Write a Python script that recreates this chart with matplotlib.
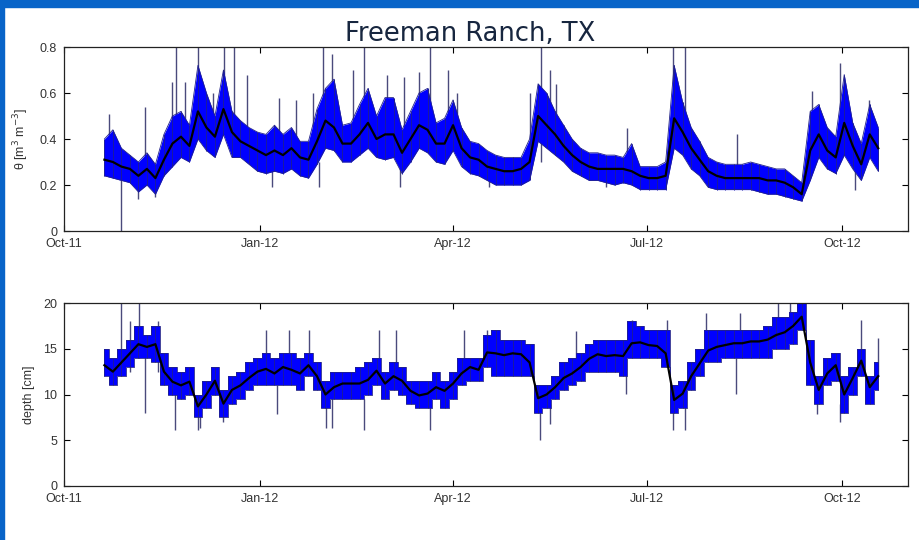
import numpy as np
import matplotlib
matplotlib.use('Agg')
import matplotlib.pyplot as plt
import matplotlib.dates as mdates
from matplotlib.patches import Rectangle

# sample days, counted from 1 Oct 2011 (one sample every 4 days)
start = np.datetime64('2011-10-01')
days = np.arange(19, 384, 4)

# soil moisture theta [m3 m-3]: mean, lower and upper band
theta_mean = [0.31, 0.30, 0.28, 0.27, 0.24, 0.27, 0.23, 0.31, 0.38, 0.41,
              0.37, 0.52, 0.45, 0.41, 0.53, 0.43, 0.39, 0.37, 0.35, 0.33,
              0.35, 0.33, 0.36, 0.32, 0.31, 0.39, 0.48, 0.45, 0.38, 0.38,
              0.42, 0.47, 0.40, 0.42, 0.42, 0.34, 0.40, 0.46, 0.44, 0.38,
              0.38, 0.46, 0.36, 0.32, 0.31, 0.28, 0.27, 0.26, 0.26, 0.27,
              0.30, 0.50, 0.46, 0.42, 0.37, 0.33, 0.30, 0.28, 0.27, 0.27,
              0.27, 0.27, 0.26, 0.24, 0.23, 0.23, 0.24, 0.49, 0.43, 0.36,
              0.31, 0.26, 0.24, 0.23, 0.23, 0.23, 0.23, 0.23, 0.22, 0.22,
              0.21, 0.19, 0.16, 0.35, 0.42, 0.35, 0.32, 0.47, 0.37, 0.29,
              0.42, 0.36]
theta_lo = [0.24, 0.23, 0.22, 0.21, 0.17, 0.20, 0.16, 0.24, 0.28, 0.32,
            0.30, 0.40, 0.35, 0.32, 0.42, 0.32, 0.32, 0.29, 0.26, 0.25,
            0.26, 0.25, 0.27, 0.24, 0.23, 0.29, 0.36, 0.35, 0.30, 0.30,
            0.33, 0.36, 0.32, 0.31, 0.32, 0.25, 0.30, 0.36, 0.34, 0.30,
            0.29, 0.35, 0.28, 0.25, 0.24, 0.22, 0.20, 0.20, 0.20, 0.20,
            0.22, 0.39, 0.36, 0.33, 0.30, 0.26, 0.24, 0.22, 0.22, 0.21,
            0.20, 0.21, 0.20, 0.18, 0.18, 0.18, 0.18, 0.36, 0.33, 0.27,
            0.24, 0.19, 0.18, 0.18, 0.18, 0.18, 0.18, 0.17, 0.16, 0.16,
            0.15, 0.14, 0.13, 0.22, 0.32, 0.27, 0.25, 0.33, 0.27, 0.22,
            0.32, 0.26]
theta_hi = [0.40, 0.44, 0.36, 0.33, 0.30, 0.34, 0.29, 0.42, 0.50, 0.52,
            0.46, 0.72, 0.60, 0.50, 0.70, 0.52, 0.48, 0.45, 0.43, 0.42,
            0.46, 0.42, 0.45, 0.39, 0.39, 0.53, 0.62, 0.66, 0.46, 0.47,
            0.55, 0.62, 0.50, 0.58, 0.58, 0.44, 0.52, 0.60, 0.62, 0.47,
            0.49, 0.57, 0.45, 0.39, 0.38, 0.35, 0.33, 0.32, 0.32, 0.32,
            0.40, 0.64, 0.60, 0.52, 0.46, 0.40, 0.36, 0.34, 0.34, 0.33,
            0.33, 0.32, 0.38, 0.28, 0.28, 0.28, 0.30, 0.72, 0.56, 0.45,
            0.39, 0.32, 0.30, 0.29, 0.29, 0.29, 0.30, 0.29, 0.28, 0.27,
            0.27, 0.24, 0.21, 0.52, 0.55, 0.45, 0.41, 0.68, 0.47, 0.38,
            0.55, 0.45]
# single readings sticking out of the band
theta_spike_day = [21, 26.7, 38, 51, 52.7, 57, 62.9, 70, 75.3, 79.8, 86, 101,
                   109, 117, 122, 126, 136, 141, 152, 160, 167, 172, 180.5,
                   185, 219, 224.5, 228.5, 231.5, 265, 286.5, 292, 316.5,
                   351.8, 365, 378.6, 35, 43, 98, 120, 158, 200, 255, 372]
theta_spike_lo = [0.30, 0.00, 0.27, 0.35, 0.35, 0.38, 0.45, 0.40, 0.50, 0.40,
                  0.37, 0.32, 0.35, 0.33, 0.45, 0.45, 0.38, 0.45, 0.40, 0.35,
                  0.45, 0.42, 0.38, 0.40, 0.28, 0.30, 0.45, 0.40, 0.28, 0.45,
                  0.42, 0.24, 0.35, 0.45, 0.42, 0.14, 0.15, 0.19, 0.19, 0.19,
                  0.19, 0.19, 0.18]
theta_spike_hi = [0.51, 0.30, 0.54, 0.65, 0.80, 0.65, 0.80, 0.60, 0.80, 0.80,
                  0.68, 0.58, 0.57, 0.60, 0.80, 0.77, 0.70, 0.80, 0.68, 0.67,
                  0.69, 0.80, 0.70, 0.60, 0.60, 0.80, 0.70, 0.64, 0.45, 0.80,
                  0.80, 0.42, 0.61, 0.73, 0.57, 0.24, 0.24, 0.30, 0.30, 0.28,
                  0.25, 0.25, 0.28]

# sensor depth [cm]
depth_mean = [13.2, 12.5, 13.5, 14.5, 15.5, 15.2, 15.5, 12.5, 11.4, 11.0,
              11.4, 8.7, 10.0, 11.5, 9.0, 10.5, 11.0, 11.8, 12.5, 12.8,
              12.3, 13.0, 12.7, 12.3, 13.2, 12.0, 10.0, 10.8, 11.2, 11.2,
              11.2, 11.6, 12.6, 11.2, 12.0, 11.5, 10.4, 9.9, 10.1, 10.8,
              10.4, 11.2, 12.3, 13.0, 12.7, 14.6, 14.5, 14.3, 14.5, 14.4,
              13.5, 9.6, 10.0, 10.8, 11.8, 12.3, 13.0, 13.9, 14.4, 14.2,
              14.3, 14.2, 15.6, 15.7, 15.4, 15.3, 14.5, 9.4, 10.1, 12.0,
              13.4, 14.8, 15.2, 15.4, 15.6, 15.6, 15.8, 15.8, 16.0, 16.5,
              16.8, 17.5, 18.5, 13.5, 10.5, 12.3, 13.2, 10.0, 11.8, 13.7,
              10.8, 12.0]
depth_lo = [12.0, 11.0, 12.0, 13.0, 14.0, 14.0, 13.5, 11.0, 10.0, 9.5,
            10.0, 7.5, 8.5, 10.0, 7.5, 9.0, 9.5, 10.5, 11.0, 11.0,
            11.0, 11.0, 11.0, 10.5, 12.0, 10.5, 8.5, 9.5, 9.5, 9.5,
            9.5, 10.0, 11.0, 9.5, 10.5, 10.0, 9.0, 8.5, 8.5, 9.5,
            8.5, 9.5, 11.0, 11.5, 11.5, 13.0, 12.0, 12.0, 12.0, 12.0,
            12.0, 8.0, 8.5, 9.5, 10.5, 11.0, 11.5, 12.5, 12.5, 12.5,
            12.5, 12.0, 14.0, 14.0, 14.0, 14.0, 13.0, 8.0, 8.5, 10.5,
            12.0, 13.5, 13.5, 14.0, 14.0, 14.0, 14.0, 14.0, 14.0, 15.0,
            15.0, 15.5, 17.0, 11.0, 9.0, 11.0, 11.5, 8.0, 10.0, 12.0,
            9.0, 10.5]
depth_hi = [15.0, 14.0, 15.0, 16.0, 17.5, 16.5, 17.5, 14.5, 13.0, 12.5,
            13.0, 10.0, 11.5, 13.0, 10.5, 12.0, 12.5, 13.5, 14.0, 14.5,
            14.0, 14.5, 14.5, 14.0, 14.5, 13.5, 11.5, 12.5, 12.5, 12.5,
            13.0, 13.5, 14.0, 12.5, 13.5, 13.0, 11.5, 11.5, 11.5, 12.5,
            11.5, 12.5, 14.0, 14.0, 14.0, 16.5, 17.0, 16.0, 16.0, 16.0,
            15.5, 11.0, 11.0, 12.0, 13.5, 14.0, 14.5, 15.5, 16.0, 16.0,
            16.0, 16.0, 18.0, 17.5, 17.0, 17.0, 17.0, 11.0, 11.5, 13.5,
            15.0, 17.0, 17.0, 17.0, 17.0, 17.0, 17.0, 17.0, 17.5, 18.5,
            18.5, 19.0, 20.0, 16.0, 12.0, 14.0, 14.5, 12.0, 13.0, 15.0,
            12.0, 13.5]
depth_spike_day = [27, 35.5, 31, 44, 38, 52.4, 63, 64, 75, 94.8, 100, 106,
                   115.3, 123.1, 126, 141, 148, 156, 172, 188, 199, 224,
                   228.7, 241, 264.6, 267, 283.5, 286.6, 292, 302, 316,
                   318, 336, 341.7, 354, 365, 375, 383]
depth_spike_lo = [12.0, 14.0, 12.5, 12.5, 8.0, 6.1, 6.1, 6.3, 7.0, 13.0, 7.9,
                  13.0, 13.0, 6.3, 6.3, 6.1, 12.0, 12.0, 6.1, 12.0, 14.0,
                  5.0, 6.8, 12.5, 10.1, 15.0, 14.0, 6.1, 6.1, 14.0, 10.1,
                  14.5, 15.5, 16.0, 7.9, 7.0, 13.0, 12.0]
depth_spike_hi = [20.0, 20.0, 18.0, 18.0, 15.0, 11.0, 9.0, 9.0, 9.0, 17.0,
                  11.0, 17.0, 17.0, 10.0, 10.0, 9.5, 17.0, 17.0, 9.0, 17.0,
                  17.0, 9.0, 9.0, 16.9, 14.0, 18.1, 18.1, 9.0, 9.0, 18.9,
                  14.0, 18.9, 20.0, 20.0, 10.0, 9.0, 18.1, 16.2]

dates = start + days.astype('timedelta64[D]')


def spike_dates(d):
    return start + (np.array(d) * 24).astype('timedelta64[h]')


plt.rcParams['font.family'] = ['Liberation Sans', 'DejaVu Sans']

fig = plt.figure(figsize=(9.2, 5.4), dpi=100)
fig.patches.append(Rectangle((0, 0), 4 / 920, 1, transform=fig.transFigure,
                             color='#0864c8', zorder=0))
fig.patches.append(Rectangle((0, 1 - 7 / 540), 1, 7 / 540,
                             transform=fig.transFigure, color='#0864c8', zorder=0))
fig.text(0.511, 0.924, 'Freeman Ranch, TX', ha='center', va='baseline',
         fontsize=18.5, color='#17263f', family='DejaVu Sans')

ax1 = fig.add_axes([64 / 920, 1 - 231 / 540, 844 / 920, 184 / 540])
ax2 = fig.add_axes([64 / 920, 1 - 486 / 540, 844 / 920, 183 / 540])

panels = [
    (ax1, theta_mean, theta_lo, theta_hi, theta_spike_day, theta_spike_lo,
     theta_spike_hi, 0.8, [0, 0.2, 0.4, 0.6, 0.8], 'θ [m$^3$ m$^{-3}$]', None),
    (ax2, depth_mean, depth_lo, depth_hi, depth_spike_day, depth_spike_lo,
     depth_spike_hi, 20, [0, 5, 10, 15, 20], 'depth [cm]', 'mid'),
]

for ax, mean, lo, hi, sd, slo, shi, ytop, yt, ylab, step in panels:
    ax.vlines(spike_dates(sd), slo, shi, color='#4a4a7c', lw=1.0, zorder=1)
    ax.fill_between(dates, lo, hi, step=step, color='#0000ff', lw=0, zorder=2)
    ax.vlines(dates, lo, hi, color='#1a1aa0', lw=0.7, zorder=2)
    ds = 'default' if step is None else 'steps-mid'
    ax.plot(dates, lo, color='#22228a', lw=0.6, drawstyle=ds, zorder=2)
    ax.plot(dates, hi, color='#22228a', lw=0.6, drawstyle=ds, zorder=2)
    ax.plot(dates, mean, color='black', lw=1.6, zorder=3)
    ax.set_ylim(0, ytop)
    ax.set_yticks(yt)
    ax.set_yticklabels([('%g' % v) for v in yt])
    ax.set_xlim(np.datetime64('2011-10-01'), np.datetime64('2012-11-01'))
    ax.xaxis.set_major_locator(mdates.MonthLocator(bymonth=[1, 4, 7, 10]))
    ax.xaxis.set_major_formatter(mdates.DateFormatter('%b-%y'))
    ax.tick_params(direction='in', top=True, right=True, length=4, width=0.8,
                   labelsize=9, labelcolor='#333333', pad=5)
    for s in ax.spines.values():
        s.set_linewidth(0.9)
        s.set_color('#222222')
    ax.set_ylabel(ylab, fontsize=9, color='#333333', labelpad=6)

fig.savefig('out.png', dpi=100, facecolor='white')
